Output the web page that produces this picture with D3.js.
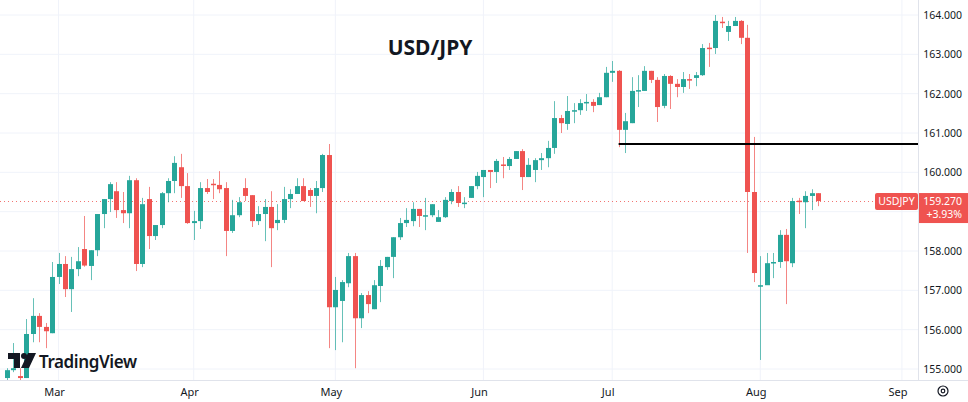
<!DOCTYPE html>
<html>
<head>
<meta charset="utf-8">
<script src="https://cdn.jsdelivr.net/npm/d3@7"></script>
<style>
  body { margin: 0; background: #fff; }
  svg { display: block; font-family: "Noto Sans", "Open Sans", sans-serif; }
</style>
</head>
<body>
<svg width="968" height="402"></svg>
<script>
// daily candles, first one on Tue 20 Feb 2024, weekdays only
const firstDay = new Date(2024, 1, 20);
const opens = [154.77,154.97,154.82,154.77,155.89,156.35,156.07,155.91,157.34,157.67,157.03,157.54,158.05,157.62,158.02,158.94,159.32,159.52,159.04,158.96,
  159.80,157.67,159.32,158.38,158.66,159.47,159.78,160.13,159.65,158.71,158.76,159.60,159.71,159.68,159.60,158.51,158.91,159.60,159.42,158.76,
  158.94,159.12,158.71,158.79,159.32,159.45,159.65,159.55,159.40,159.60,160.44,156.57,156.73,157.18,157.87,156.29,156.88,156.52,157.11,157.59,
  157.85,158.35,158.71,158.76,159.07,158.89,158.91,158.74,158.86,159.27,159.50,159.22,159.35,159.65,159.88,160.06,160.01,160.20,160.16,160.34,
  160.54,159.88,160.06,160.31,160.36,160.62,161.38,161.23,161.57,161.58,161.78,161.79,161.71,161.91,162.53,162.58,161.08,161.25,162.07,162.07,
  162.58,162.35,161.69,162.45,162.25,162.17,162.37,162.40,162.47,163.17,163.16,163.83,163.57,163.72,163.85,163.42,159.50,157.11,157.13,157.69,
  157.72,158.41,157.69,159.28,159.24,159.40,159.47];
const highs = [155.02,155.66,155.02,156.27,156.80,156.42,156.17,157.72,157.95,157.87,157.85,158.10,158.89,158.02,158.94,159.32,159.75,159.75,159.50,159.91,
  159.85,159.35,159.63,158.66,159.50,159.85,160.41,160.47,159.98,159.02,159.75,159.83,159.83,160.03,159.75,159.30,159.37,159.85,159.42,159.14,
  159.32,159.52,159.19,159.63,159.57,159.85,159.85,159.60,159.78,160.47,160.72,157.34,157.26,157.95,157.95,156.93,156.98,157.26,157.77,157.85,
  158.35,158.84,159.09,159.24,159.07,159.35,159.19,159.04,159.37,159.57,159.65,159.37,159.65,160.01,160.06,160.06,160.34,160.39,160.39,160.54,
  160.59,160.36,160.36,160.49,160.80,161.81,161.46,161.94,161.76,161.86,161.99,161.86,162.02,162.68,162.83,162.60,161.51,162.42,162.47,162.70,
  162.58,162.42,162.50,162.47,162.37,162.55,162.50,162.55,163.26,163.29,164.00,163.95,163.85,163.95,163.87,163.75,160.90,157.87,157.95,157.95,
  158.53,158.56,159.35,159.35,159.52,159.57,159.47];
const lows = [154.72,154.92,154.72,154.77,155.68,155.68,155.53,155.91,157.16,156.83,156.45,157.36,157.60,157.26,157.87,158.58,158.99,158.84,158.71,158.58,
  157.49,157.59,158.05,158.28,158.58,159.24,159.47,159.35,158.69,158.28,158.56,159.45,159.32,159.47,157.87,158.46,158.86,159.27,158.61,158.66,
  158.25,157.59,158.53,158.71,159.09,159.45,159.27,159.12,158.96,159.50,155.53,155.48,155.68,157.08,155.02,156.04,156.42,156.52,156.70,157.52,
  157.31,158.28,158.61,158.63,158.61,158.53,158.86,158.74,158.84,159.19,159.12,159.09,159.35,159.57,159.37,159.60,159.73,159.85,160.06,160.34,
  159.55,159.88,159.75,160.06,160.13,160.47,161.00,161.08,161.25,161.46,161.56,161.53,161.71,161.91,162.30,160.64,160.49,161.25,161.66,162.07,
  162.27,161.28,161.63,161.61,161.91,162.02,162.12,162.19,162.45,162.68,163.01,163.67,163.34,163.72,163.26,157.95,157.21,155.23,157.29,157.31,
  157.57,156.65,157.59,158.94,158.58,159.04,159.14];
const closes = [154.97,155.02,154.77,155.89,156.35,156.07,155.96,157.34,157.67,157.03,157.54,157.74,157.63,158.02,158.94,159.32,159.70,159.04,158.96,159.80,
  157.67,159.19,158.38,158.66,159.47,159.78,160.24,159.65,158.71,158.76,159.60,159.50,159.70,159.57,158.51,158.91,159.24,159.40,158.76,158.94,
  159.12,158.58,158.79,159.32,159.45,159.65,159.27,159.40,159.60,160.44,156.57,157.01,157.21,157.87,156.29,156.88,156.65,157.13,157.62,157.85,
  158.35,158.71,158.79,159.07,158.89,158.91,159.19,158.86,159.30,159.50,159.22,159.23,159.65,159.91,160.06,160.01,160.29,160.18,160.34,160.54,
  159.88,160.19,160.31,160.36,160.62,161.38,161.25,161.56,161.58,161.76,161.79,161.69,161.91,162.53,162.58,161.08,161.30,162.07,162.09,162.58,
  162.35,161.66,162.45,162.25,162.17,162.37,162.35,162.47,163.16,163.15,163.85,163.81,163.72,163.85,163.42,159.50,157.44,157.13,157.69,157.72,
  158.41,157.74,159.27,159.26,159.40,159.47,159.27];
const priceTicks = [155, 156, 157, 158, 159, 160, 161, 162, 163, 164];
const monthTicks = [
  { label: "Mar", date: new Date(2024, 2, 1) },
  { label: "Apr", date: new Date(2024, 3, 1) },
  { label: "May", date: new Date(2024, 4, 1) },
  { label: "Jun", date: new Date(2024, 5, 3) },
  { label: "Jul", date: new Date(2024, 6, 1) },
  { label: "Aug", date: new Date(2024, 7, 1) },
  { label: "Sep", date: new Date(2024, 8, 2) }
];
const levelLine = { from: 95, price: 160.72 };
const lastPrice = 159.270;
const lastChange = "+3.93%";

const up = "#26a69a";
const down = "#ef5350";
const svg = d3.select("svg");
const plotW = 918;
const plotH = 380;

const isWeekday = d => d.getDay() !== 0 && d.getDay() !== 6;
const dayIndex = date => d3.timeDay.range(firstDay, date).filter(isWeekday).length;

const candles = opens.map((o, i) => ({ i, o, h: highs[i], l: lows[i], c: closes[i] }));

const x = d3.scaleLinear().domain([-1.09, 141.5]).range([0, plotW]);
const y = d3.scaleLinear().domain([155, 164]).range([369, 15]);
const ly = y(lastPrice);

svg.append("defs").append("clipPath").attr("id", "plot")
  .append("rect").attr("width", plotW).attr("height", plotH);

// grid
const grid = svg.append("g").attr("stroke", "#f0f3fa");
grid.selectAll(".h").data(priceTicks).join("line")
  .attr("x1", 0).attr("x2", plotW).attr("y1", d => y(d)).attr("y2", d => y(d));
grid.selectAll(".v").data(monthTicks).join("line")
  .attr("x1", d => x(dayIndex(d.date))).attr("x2", d => x(dayIndex(d.date)))
  .attr("y1", 0).attr("y2", plotH);

svg.append("line").attr("x1", plotW + 0.5).attr("x2", plotW + 0.5).attr("y1", 0).attr("y2", plotH)
  .attr("stroke", "#e0e3eb");
svg.append("line").attr("x1", 0).attr("x2", 968).attr("y1", plotH + 0.5).attr("y2", plotH + 0.5)
  .attr("stroke", "#e0e3eb");

const plot = svg.append("g").attr("clip-path", "url(#plot)");

// current price dotted line
plot.append("line")
  .attr("x1", 0).attr("x2", plotW).attr("y1", Math.round(ly) + 0.5).attr("y2", Math.round(ly) + 0.5)
  .attr("stroke", down).attr("stroke-dasharray", "1,3").attr("opacity", 0.8);

const cg = plot.append("g").selectAll("g").data(candles).join("g")
  .attr("fill", d => d.c >= d.o ? up : down)
  .attr("stroke", d => d.c >= d.o ? up : down);
cg.append("line")
  .attr("x1", d => Math.round(x(d.i)) + 0.5).attr("x2", d => Math.round(x(d.i)) + 0.5)
  .attr("y1", d => y(d.h)).attr("y2", d => y(d.l))
  .attr("stroke-opacity", 0.7);
cg.append("rect")
  .attr("stroke", "none")
  .attr("x", d => Math.round(x(d.i)) - 2)
  .attr("width", 5)
  .attr("y", d => y(Math.max(d.o, d.c)))
  .attr("height", d => Math.max(1.5, Math.abs(y(d.o) - y(d.c))));

// horizontal level
svg.append("line")
  .attr("x1", x(levelLine.from)).attr("x2", plotW)
  .attr("y1", y(levelLine.price)).attr("y2", y(levelLine.price))
  .attr("stroke", "#000").attr("stroke-width", 2);

// right axis (ticks hidden under the price box are skipped)
svg.append("g").selectAll("text")
  .data(priceTicks.filter(d => y(d) < ly - 14 || y(d) > ly + 28)).join("text")
  .attr("x", 962).attr("y", d => y(d) + 4).attr("text-anchor", "end")
  .attr("font-size", 10.5).attr("fill", "#131722")
  .text(d => d3.format(".3f")(d));

// bottom axis
svg.append("g").selectAll("text").data(monthTicks).join("text")
  .attr("x", d => x(dayIndex(d.date)) - 4).attr("y", 396)
  .attr("text-anchor", "middle").attr("font-size", 11).attr("fill", "#131722")
  .text(d => d.label);

// gear icon
const gear = svg.append("g").attr("transform", "translate(943,391)")
  .attr("fill", "none").attr("stroke", "#131722").attr("stroke-width", 1.2);
gear.append("circle").attr("r", 5);
gear.append("circle").attr("r", 1.8);

// price labels
svg.append("rect").attr("x", 875).attr("y", ly - 8).attr("width", 43).attr("height", 17)
  .attr("rx", 2).attr("fill", down);
svg.append("text").attr("x", 896.5).attr("y", ly + 4).attr("text-anchor", "middle")
  .attr("font-size", 10.5).attr("fill", "#fff").text("USDJPY");
svg.append("rect").attr("x", 919).attr("y", ly - 8).attr("width", 49).attr("height", 30)
  .attr("fill", down);
svg.append("text").attr("x", 962).attr("y", ly + 4).attr("text-anchor", "end")
  .attr("font-size", 10.5).attr("fill", "#fff").text(d3.format(".3f")(lastPrice));
svg.append("text").attr("x", 962).attr("y", ly + 17).attr("text-anchor", "end")
  .attr("font-size", 10.5).attr("fill", "#fff").text(lastChange);

// title
svg.append("text").attr("x", 430).attr("y", 55).attr("text-anchor", "middle")
  .attr("font-size", 21).attr("font-weight", "bold").attr("fill", "#131722")
  .text("USD/JPY");

// watermark logo
const logo = svg.append("g").attr("transform", "translate(8,353)").attr("fill", "#131722");
logo.append("path").attr("d", "M0,0H12V15H6V6H0Z");
logo.append("circle").attr("cx", 16).attr("cy", 3).attr("r", 3);
logo.append("path").attr("d", "M20,0H28L21,15H13Z");
logo.append("text").attr("x", 31).attr("y", 15)
  .attr("font-size", 17).attr("font-weight", "600").attr("letter-spacing", -0.4)
  .text("TradingView");
</script>
</body>
</html>
